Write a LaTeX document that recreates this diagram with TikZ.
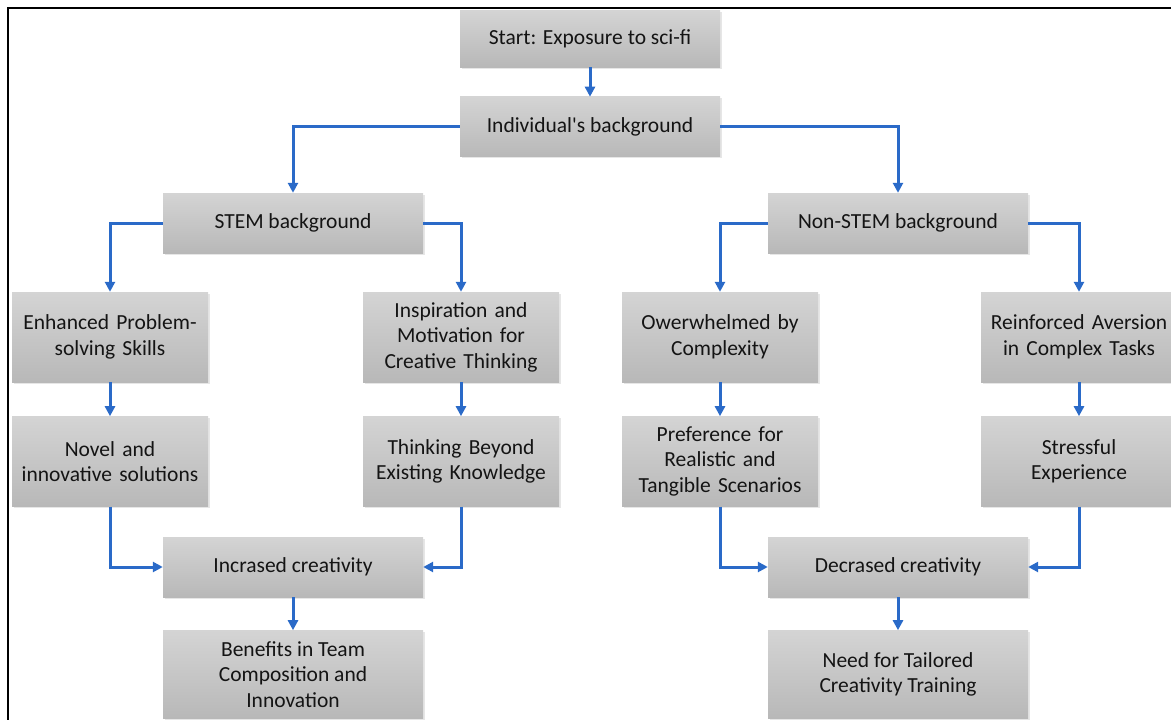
\documentclass[tikz,border=0pt]{standalone}
\usepackage{fontspec}
\setmainfont{Carlito}
\usetikzlibrary{positioning,arrows.meta,shadows}
\definecolor{boxtop}{HTML}{D4D4D4}
\definecolor{boxbottom}{HTML}{B8B8B8}
\definecolor{flowblue}{HTML}{2A6AC8}
\definecolor{inktext}{HTML}{141414}

\begin{document}
\begin{tikzpicture}[x=1pt, y=-1pt,
      every node/.style={font=\fontsize{21.5}{25.5}\selectfont, text=inktext},
      stage/.style={
        top color=boxtop, bottom color=boxbottom,
        drop shadow={shadow xshift=1.5pt, shadow yshift=-1.5pt, opacity=0.2},
        minimum width=260pt, minimum height=60pt,
        inner sep=2pt, align=center
      },
      branch/.style={stage, minimum width=196pt, minimum height=90pt, text width=192pt},
      flow/.style={draw=flowblue, line width=3pt, -{Triangle[length=10pt,width=10pt]}}
    ]
      \useasboundingbox (0,0) rectangle (1171,720);
      \draw[line width=2pt] (8,721) -- (8,8) -- (1172,8);

      \node[stage, minimum height=57pt] (start) at (590,38.5) {Start: Exposure to sci-fi};
      \node[stage, below=29.5pt of start] (indiv) {Individual\textquotesingle s background};
      \node[stage] (stem) at (293,223) {STEM background};
      \node[stage] (nonstem) at (898,223) {Non-STEM background};

      \node[branch] (enh) at (110,337) {Enhanced Problem-\\solving Skills};
      \node[branch] (insp) at (461,337) {Inspiration and\\Motivation for\\Creative Thinking};
      \node[branch] (overw) at (720,337) {Owerwhelmed by\\Complexity};
      \node[branch] (reinf) at (1079,337) {Reinforced Aversion\\in Complex Tasks};

      \node[branch, below=34pt of enh] (novel) {Novel and\\innovative solutions};
      \node[branch, below=34pt of insp] (beyond) {Thinking Beyond\\Existing Knowledge};
      \node[branch, below=34pt of overw] (pref) {Preference for\\Realistic and\\Tangible Scenarios};
      \node[branch, below=34pt of reinf] (stress) {Stressful\\Experience};

      \node[stage] (incr) at (293,567) {Incrased creativity};
      \node[stage] (decr) at (898,567) {Decrased creativity};
      \node[stage, minimum height=88pt, below=33pt of incr] (benef) {Benefits in Team\\Composition and\\Innovation};
      \node[stage, minimum height=88pt, below=33pt of decr] (need) {Need for Tailored\\Creativity Training};

      \draw[flow] (start) -- (indiv);
      \draw[flow] (indiv.west) -| (stem.north);
      \draw[flow] (indiv.east) -| (nonstem.north);
      \draw[flow] (stem.west) -| (enh.north);
      \draw[flow] (stem.east) -| (insp.north);
      \draw[flow] (nonstem.west) -| (overw.north);
      \draw[flow] (nonstem.east) -| (reinf.north);
      \foreach \a/\b in {enh/novel, insp/beyond, overw/pref, reinf/stress, incr/benef, decr/need}
        \draw[flow] (\a) -- (\b);
      \draw[flow] (novel.south) |- (incr.west);
      \draw[flow] (beyond.south) |- (incr.east);
      \draw[flow] (pref.south) |- (decr.west);
      \draw[flow] (stress.south) |- (decr.east);
    \end{tikzpicture}
\end{document}
